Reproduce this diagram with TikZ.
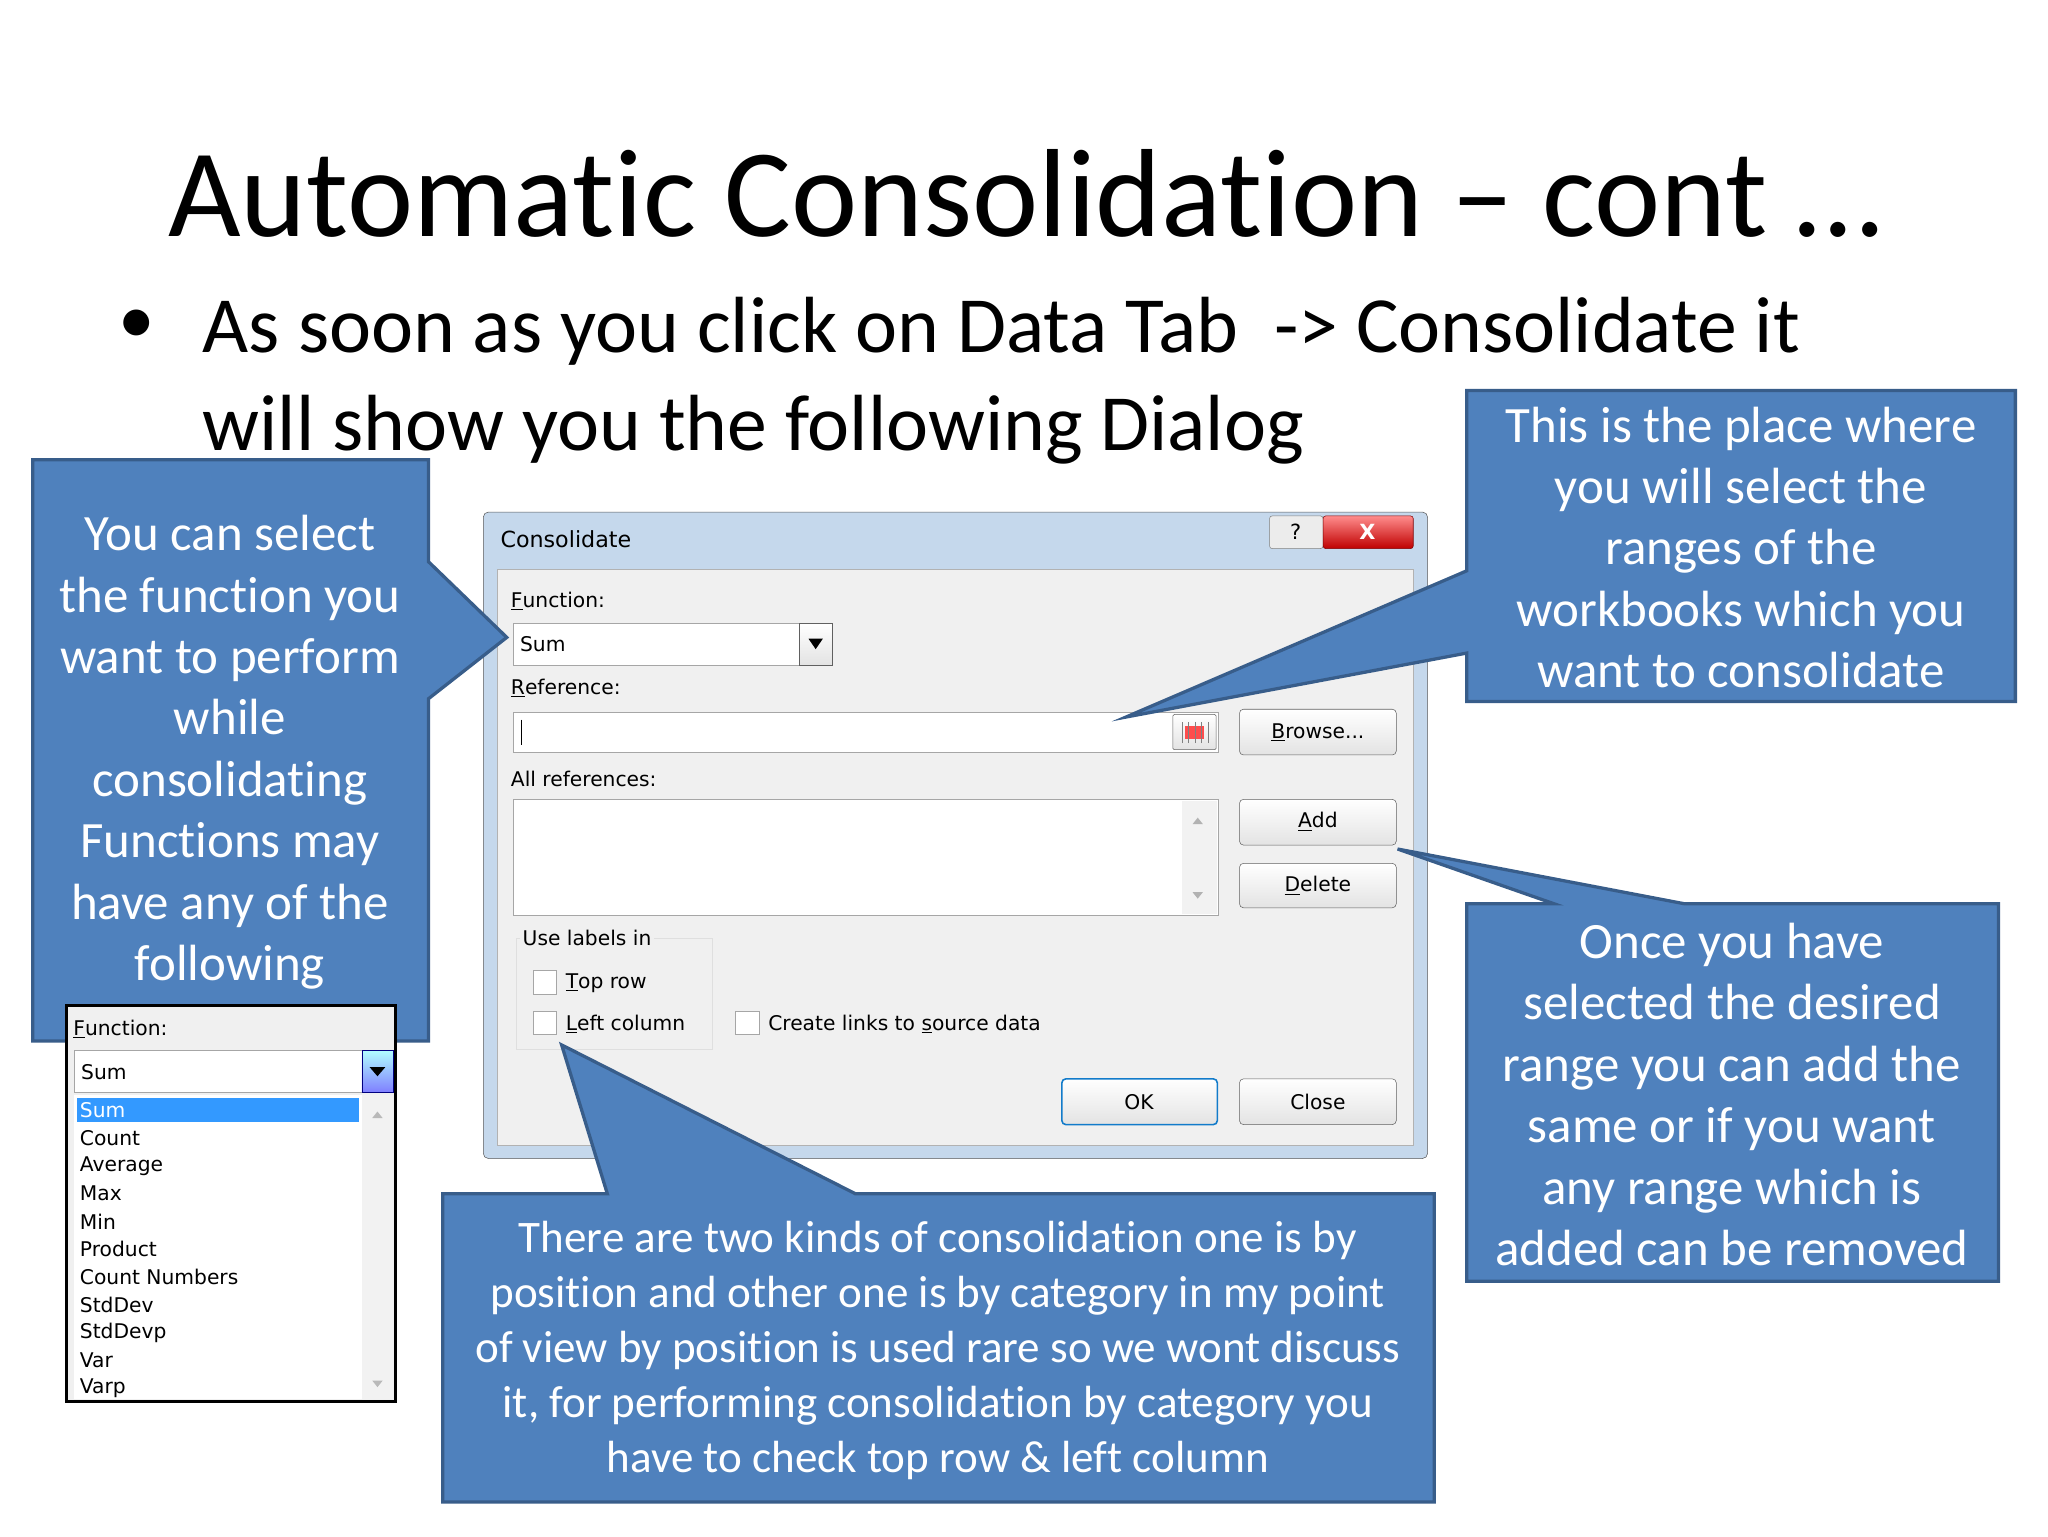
\documentclass[tikz,border=0pt]{standalone}
\usepackage{fontspec}
\setmainfont{Carlito}[Ligatures=NoCommon]
\newfontfamily\uifont{DejaVu Sans}
\definecolor{cfill}{HTML}{4F81BD}
\definecolor{cborder}{HTML}{385D8A}
\definecolor{dlgframe}{HTML}{C5D8EC}
\definecolor{dlgpanel}{HTML}{F0F0F0}
\definecolor{selblue}{HTML}{3399FF}
\begin{document}
\begin{tikzpicture}[x=1pt,y=-1pt,
  callout/.style={fill=cfill,draw=cborder,line width=2.5pt,line join=miter},
  ctext/.style={text=white,align=center,font=\fontsize{39}{47}\selectfont,inner sep=0},
  ui/.style={font=\uifont\fontsize{15.5}{18}\selectfont,anchor=west,inner sep=0},
  btn/.style={draw=gray!75!black,rounded corners=3pt,top color=white,bottom color=gray!22},
  fld/.style={draw=gray!70,fill=white},
  chk/.style={draw=gray!70,fill=white}]
\useasboundingbox (0,0) rectangle (1568,1176);
\fill[white] (0,0) rectangle (1568,1176);
% title
\node (title) at (785,148) {\fontsize{96}{100}\selectfont Automatic Consolidation -- cont \dots};
\node (bullet) at (105,250) {\fontsize{56}{60}\selectfont\textbullet};
\node[anchor=base west,inner sep=0] (l1) at (155,270) {\fontsize{61}{60}\selectfont As soon as you click on Data Tab\ \ -> Consolidate it};
\node[anchor=base west,inner sep=0] (l2) at (155,345) {\fontsize{61}{60}\selectfont will show you the following Dialog};
% dialog
\draw[gray!70!black,fill=dlgframe,rounded corners=4pt] (370,392) rectangle (1093,887);
\node[ui,font=\uifont\fontsize{17}{18}\selectfont] (dtitle) at (383,413) {Consolidate};
\draw[gray,fill=gray!15,rounded corners=2pt] (972,395) rectangle (1013,420);
\node (help) at (992,407) {\uifont\fontsize{16}{18}\selectfont ?};
\draw[red!50!black,top color=red!45,bottom color=red!75!black,rounded corners=2pt] (1013,395) rectangle (1082,420);
\node[text=white] (closex) at (1047,407) {\uifont\bfseries\fontsize{16}{18}\selectfont X};
\draw[gray!60,fill=dlgpanel] (381,436) rectangle (1082,877);
\node[ui] (fnl) at (391,460) {\underline{F}unction:};
\draw[fld] (393,477) rectangle (637,509);
\draw[btn,rounded corners=0pt] (612,477) rectangle (637,509);
\fill (619,489) -- (630,489) -- (624.5,497) -- cycle;
\node[ui] (fnv) at (398,493) {Sum};
\node[ui] (refl) at (391,527) {\underline{R}eference:};
\draw[fld] (393,545) rectangle (933,576);
\draw (399,551) -- (399,570);
\draw[btn,rounded corners=1pt] (898,547) rectangle (931,574);
\fill[red!70] (907,556) rectangle (922,566);
\draw[gray,step=5] (904,553) grid (926,569);
\draw[btn] (949,543) rectangle (1069,578);
\node[ui,anchor=center] (browse) at (1009,561) {\underline{B}rowse...};
\node[ui] (allr) at (391,596) {All references:};
\draw[fld] (393,612) rectangle (933,701);
\fill[gray!10] (905,613) rectangle (932,700);
\fill[gray!60] (913,631) -- (921,631) -- (917,626) -- cycle;
\fill[gray!60] (913,683) -- (921,683) -- (917,688) -- cycle;
\draw[btn] (949,612) rectangle (1069,647);
\node[ui,anchor=center] (add) at (1009,629) {\underline{A}dd};
\draw[btn] (949,661) rectangle (1069,695);
\node[ui,anchor=center] (del) at (1009,678) {\underline{D}elete};
\draw[gray!25] (395,718) rectangle (545,803);
\node[ui,fill=dlgpanel,inner sep=2pt] (use) at (398,718) {Use labels in};
\draw[chk] (408,743) rectangle (426,761);
\node[ui] (top) at (433,753) {\underline{T}op row};
\draw[chk] (408,774) rectangle (426,792);
\node[ui] (left) at (433,784) {\underline{L}eft column};
\draw[chk] (563,774) rectangle (581,792);
\node[ui] (links) at (588,784) {Create links to \underline{s}ource data};
\draw[btn,draw=cyan!60!blue,line width=1.2pt] (813,826) rectangle (932,861);
\node[ui,anchor=center] (ok) at (872,844) {OK};
\draw[btn] (949,826) rectangle (1069,861);
\node[ui,anchor=center] (close) at (1009,844) {Close};
% callouts
\draw[callout] (25,352) -- (328,352) -- (328,430) -- (388,488) -- (328,535) -- (328,797) -- (25,797) -- cycle;
\node[ctext] (ct1) at (176,576) {You can select\\the function you\\want to perform\\while\\consolidating\\Functions may\\have any of the\\following};
\draw[callout] (1123,299) -- (1543,299) -- (1543,537) -- (1123,537) -- (1123,500) -- (862,549) -- (1123,437) -- cycle;
\node[ctext] (ct2) at (1333,419) {This is the place where\\you will select the\\ranges of the\\workbooks which you\\want to consolidate};
\draw[callout] (1123,692) -- (1190,692) -- (1070,650) -- (1290,692) -- (1530,692) -- (1530,981) -- (1123,981) -- cycle;
\node[ctext] (ct3) at (1326,838) {Once you have\\selected the desired\\range you can add the\\same or if you want\\any range which is\\added can be removed};
\draw[callout] (339,914) -- (465,914) -- (430,800) -- (655,914) -- (1098,914) -- (1098,1150) -- (339,1150) -- cycle;
\node[ctext,font=\fontsize{34.5}{42}\selectfont] (ct4) at (718,1034) {There are two kinds of consolidation one is by\\position and other one is by category in my point\\of view by position is used rare so we wont discuss\\it, for performing consolidation by category you\\have to check top row \& left column};
% function dropdown
\draw[black,line width=2pt,fill=dlgpanel] (51,770) rectangle (303,1073);
\node[ui] (dfl) at (56,788) {\underline{F}unction:};
\draw[fld] (57,804) rectangle (301,836);
\node[ui] (dfv) at (62,821) {Sum};
\draw[draw=blue!50!black,top color=cyan!30,bottom color=blue!50] (277,804) rectangle (301,836);
\fill (283,817) -- (295,817) -- (289,824) -- cycle;
\fill[white] (57,838) rectangle (301,1071);
\fill[gray!10] (277,838) rectangle (301,1071);
\fill[gray!55] (285,856) -- (293,856) -- (289,851) -- cycle;
\fill[gray!55] (285,1057) -- (293,1057) -- (289,1062) -- cycle;
\fill[selblue] (59,841) rectangle (275,859);
\node[ui,text=white] (it0) at (61,850) {Sum};
\foreach \t [count=\i] in {Count,Average,Max,Min,Product,Count Numbers,StdDev,StdDevp,Var,Varp}
  \node[ui] (it\i) at (61,850+21.3*\i) {\t};
\end{tikzpicture}
\end{document}
